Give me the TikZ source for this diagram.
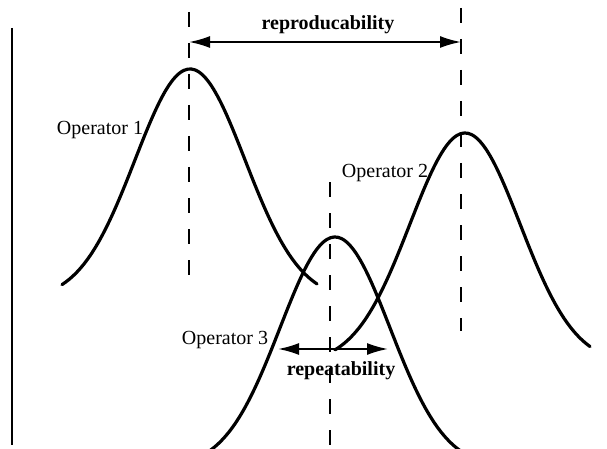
\documentclass[tikz,border=0pt]{standalone}
\usepackage{fontspec}
\setmainfont{Liberation Serif}
\usetikzlibrary{arrows.meta}

\begin{document}
\begin{tikzpicture}[x=1pt, y=-1pt, >=Latex,
  font=\fontsize{20}{24}\selectfont,
  curve/.style={line width=3.2pt, line join=round, line cap=round},
  meanline/.style={line width=1.4pt, dash pattern=on 15pt off 16pt},
  spread/.style={line width=2pt, {Latex[length=21pt,width=12pt]}-{Latex[length=21pt,width=12pt]}},
  lbl/.style={inner sep=0pt}]

\useasboundingbox (0,0) rectangle (607,449);

% --- axis on the left ---
\coordinate (axtop) at (12,28);
\coordinate (axbot) at (12,445);
\draw[line width=1.6pt] (axtop) -- (axbot);

% --- mean lines ---
\coordinate (m1top) at (189,12);  \coordinate (m1bot) at (189,277);
\coordinate (m2top) at (461,8);   \coordinate (m2bot) at (461,331);
\coordinate (m3top) at (330,182); \coordinate (m3bot) at (330,449);
\draw[meanline] (m1top) -- (m1bot);
\draw[meanline] (m2top) -- (m2bot);
\draw[meanline] (m3top) -- (m3bot);

% --- the three distributions ---
\foreach \px/\py/\lo/\hi in {190/69/-128/127, 465/133/-130/125, 335/237/-130/125}{
  \draw[curve] plot[domain=\lo:\hi, samples=70, smooth]
    ({\px+\x}, {\py+231*(1-exp(-((\x/10)^2)/60.5))});
}

% --- labels ---
\node[lbl] (op1) at (100,130) {Operator 1};
\node[lbl] (op2) at (385,173) {Operator 2};
\node[lbl] (op3) at (225,340) {Operator 3};

% --- reproducability ---
\coordinate (rep1) at (189,42);
\coordinate (rep2) at (461,42);
\draw[spread] (rep1) -- (rep2);
\node[lbl, font=\fontsize{20}{24}\selectfont\bfseries] (reptxt) at (328,25) {reproducability};

% --- repeatability ---
\coordinate (rpt1) at (278,349);
\coordinate (rpt2) at (388,349);
\draw[spread] (rpt1) -- (rpt2);
\node[lbl, font=\fontsize{20}{24}\selectfont\bfseries] (rpttxt) at (341,371) {repeatability};
\end{tikzpicture}
\end{document}
